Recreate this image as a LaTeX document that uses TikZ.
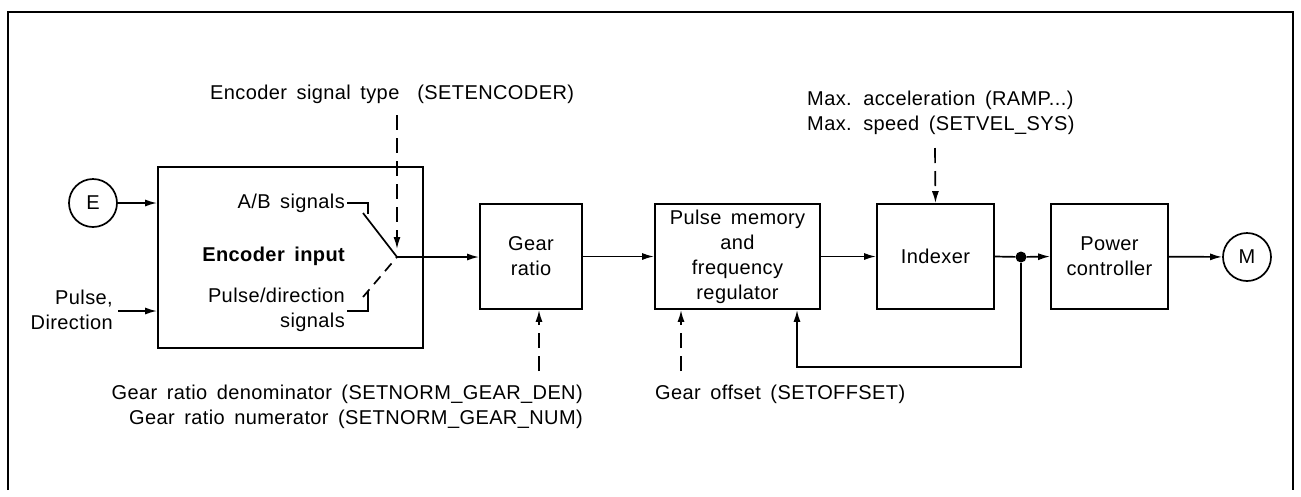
\documentclass[tikz,border=0pt]{standalone}
\usepackage{fontspec}
\setmainfont{Liberation Sans}[LetterSpace=2,WordSpace=1.6]
\usetikzlibrary{arrows.meta}
\begin{document}
\begin{tikzpicture}[x=1pt,y=-1pt,
  font=\fontsize{20}{25}\selectfont,
  box/.style={draw, line width=1.7pt, inner sep=0pt, align=center},
  circ/.style={draw, circle, line width=1.7pt, minimum size=48pt, inner sep=0pt},
  lbl/.style={inner sep=0pt},
  wire/.style={line width=1.7pt},
  conn/.style={wire, -{Latex[length=12pt,width=7pt]}},
  dconn/.style={conn, dash pattern=on 15pt off 8pt},
  frame/.style={line width=2.8pt}
]
\useasboundingbox (0,0) rectangle (1301,496);
% outer frame (open at bottom)
\draw[frame] (8,490) -- (8,12) -- (1293,12) -- (1293,490);

% circles
\node[circ] (E) at (93,203) {E};
\node[circ] (M) at (1247,257) {M};

% boxes
\node[box, minimum width=265pt, minimum height=181pt] (enc) at (290.5,257.5) {};
\node[box, minimum width=102pt, minimum height=105pt] (gear) at (531,256.5) {Gear\\ratio};
\node[box, minimum width=165pt, minimum height=105pt] (pulse) at (737.5,256.5) {Pulse memory\\and\\frequency\\regulator};
\node[box, minimum width=117pt, minimum height=105pt] (idx) at (935.5,256.5) {Indexer};
\node[box, minimum width=117pt, minimum height=105pt] (pwr) at (1109.5,256.5) {Power\\controller};

% labels inside encoder box
\node[lbl, anchor=east] (ab) at (345,203) {A/B signals};
\node[lbl, anchor=east, font=\fontsize{20}{25}\selectfont\bfseries] (encin) at (345,256) {Encoder input};
\node[lbl, anchor=east, align=right] (pd) at (345,309.5) {Pulse/direction\\signals};

% outside labels
\node[lbl, anchor=east, align=right] (pdin) at (113,309.5) {Pulse,\\Direction};
\node[lbl, anchor=west] (est) at (210,94) {Encoder signal type\hspace{18pt}(SETENCODER)};
\node[lbl, anchor=west, align=left] (maxl) at (807,112.5) {Max. acceleration (RAMP...)\\Max. speed (SETVEL\_SYS)};
\node[lbl, anchor=east, align=right] (gearl) at (583,407) {Gear ratio denominator (SETNORM\_GEAR\_DEN)\\Gear ratio numerator (SETNORM\_GEAR\_NUM)};
\node[lbl, anchor=west] (offl) at (655,394) {Gear offset (SETOFFSET)};

% switch
\coordinate (sw) at (397,257);
\coordinate (abA) at (368,203);
\coordinate (abB) at (368,214);
\coordinate (abC) at (363,213);
\coordinate (pdA) at (368,311);
\coordinate (pdB) at (368,291);
\coordinate (pdC) at (363,297);
\draw[wire] (ab.east) ++(2,0) -- (abA) -- (abB);
\draw[wire] (abC) -- (sw);
\draw[wire] (pd.east |- pdA) ++(2,0) -- (pdA) -- (pdB);
\draw[wire, dash pattern=on 10pt off 7pt] (pdC) -- (sw);

% main signal path
\draw[conn] (E) -- (E -| enc.west);
\draw[conn] (pdin.east |- pdA) ++(5,0) -- (enc.west |- pdA);
\draw[conn] (sw) -- (gear.west |- sw);
\draw[conn] (gear) -- (pulse);
\draw[conn] (pulse) -- (idx);
\node[circle, fill, inner sep=0pt, minimum size=11pt] (dot) at (1021,257) {};
\draw[wire] (idx.east) -- (dot);
\draw[conn] (dot) -- (pwr.west);
\draw[conn] (pwr) -- (M);

% feedback
\coordinate (fbL) at (797,367);
\draw[conn] (dot) |- (fbL) -- (fbL |- pulse.south);

% dashed parameter arrows
\coordinate (estTop) at (397,115);
\coordinate (estEnd) at (397,249);
\draw[dconn] (estTop) -- (estEnd);
\coordinate (gearBot) at (539,371);
\draw[dconn] (gearBot) -- (gearBot |- gear.south);
\coordinate (offBot) at (681,371);
\draw[dconn] (offBot) -- (offBot |- pulse.south);
\coordinate (idxTop) at (935,148);
\draw[dconn] (idxTop) -- (idx.north);
\end{tikzpicture}
\end{document}
